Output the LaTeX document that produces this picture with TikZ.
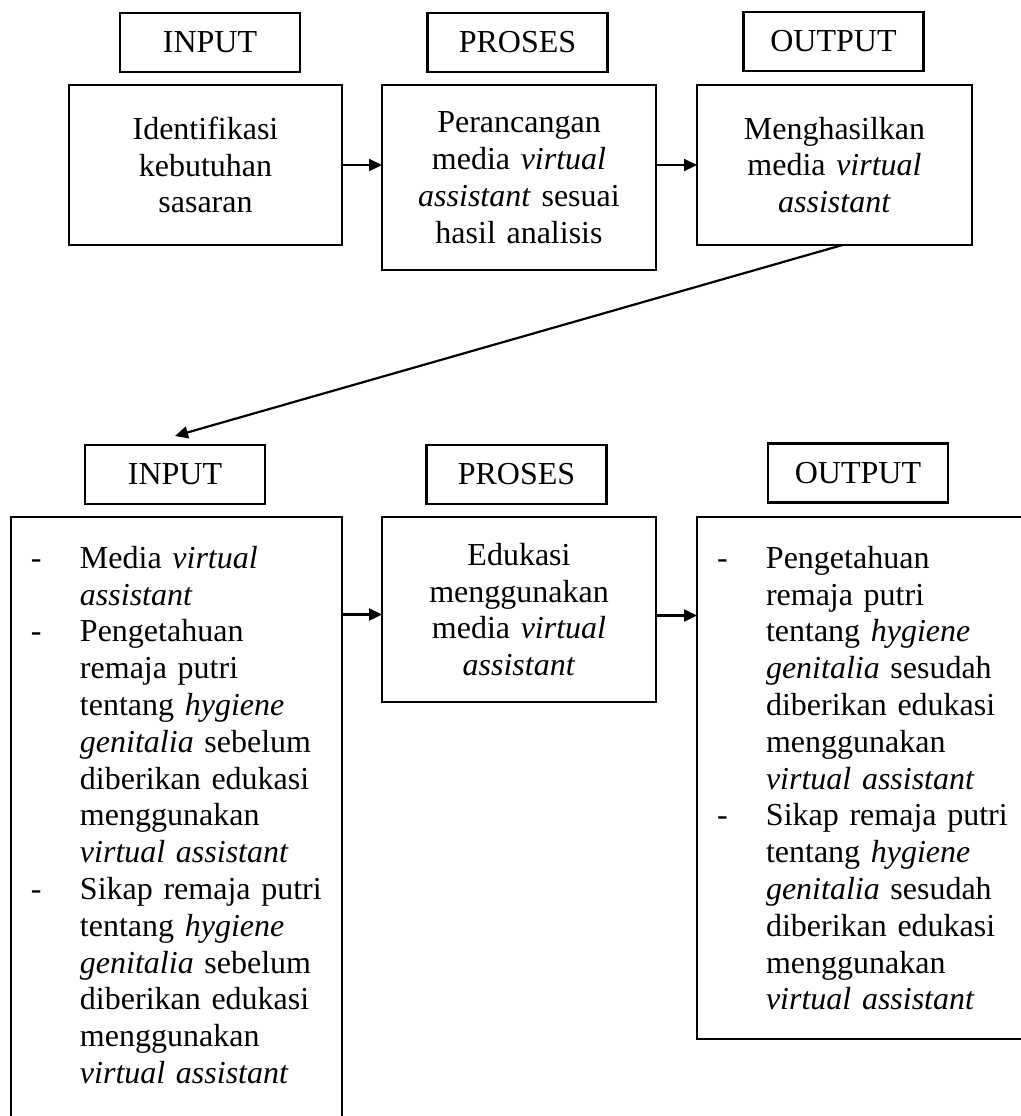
\documentclass[tikz,border=0pt]{standalone}
\usepackage{fontspec}
\setmainfont{Liberation Serif}
\usetikzlibrary{arrows.meta,positioning,calc}
\newcommand{\lstdash}{\makebox[24.5pt][l]{-}}
\newcommand{\lstgap}{\hspace*{24.5pt}}

\begin{document}
\begin{tikzpicture}[x=0.5pt,y=-0.5pt,font=\fontsize{16pt}{18.4pt}\selectfont,node distance=20pt]
\tikzset{lbl/.style={draw,line width=1.2pt,minimum width=90pt,minimum height=29.5pt,inner sep=0pt,outer sep=0pt}, box/.style={draw,line width=1.2pt,minimum width=137pt,minimum height=80pt,text width=125pt,align=center,inner sep=0pt,outer sep=0pt}, lst/.style={draw,line width=1.2pt,inner xsep=10pt,inner ysep=14.5pt,outer sep=0pt,align=left,anchor=north west}, ar/.style={-{Triangle[length=6.5pt,width=6pt]},line width=1.1pt}}
\useasboundingbox (0,0) rectangle (1021,1116);
\clip (0,0) rectangle (1021,1116);
% top row
\node[lbl] (lin1) at (210,42.5) {INPUT};
\node[lbl] (lpr1) at (517.5,42.5) {PROSES};
\node[lbl] (lout1) at (833.5,41.5) {OUTPUT};
\node[box,minimum width=136.5pt,anchor=north west] (b1) at (69,85) {Identifikasi\\kebutuhan\\sasaran};
\node[box,minimum height=92.5pt,right=20pt of b1.north east,anchor=north west] (b2) {Perancangan\\media \textit{virtual}\\\textit{assistant} sesuai\\hasil analisis};
\node[box,minimum width=137.5pt,right=20.5pt of b2.north east,anchor=north west] (b3) {Menghasilkan\\media \textit{virtual}\\\textit{assistant}};
\draw[ar] (b1.east) -- (b1.east -| b2.west);
\draw[ar] (b2.east |- b3.west) -- (b3.west);
% bottom row
\node[lbl] (lin2) at (175,474.5) {INPUT};
\node[lbl] (lpr2) at (516.5,474.5) {PROSES};
\node[lbl] (lout2) at (858,473) {OUTPUT};
\node[lst,text width=145.5pt,text depth=264pt] (b4) at (11,517) {\lstdash Media \textit{virtual}\\
\lstgap\textit{assistant}\\
\lstdash Pengetahuan\\
\lstgap remaja putri\\
\lstgap tentang \textit{hygiene}\\
\lstgap\textit{genitalia} sebelum\\
\lstgap diberikan edukasi\\
\lstgap menggunakan\\
\lstgap\textit{virtual assistant}\\
\lstdash Sikap remaja putri\\
\lstgap tentang \textit{hygiene}\\
\lstgap\textit{genitalia} sebelum\\
\lstgap diberikan edukasi\\
\lstgap menggunakan\\
\lstgap\textit{virtual assistant}};
\node[box,minimum height=92.5pt,right=20pt of b4.north east,anchor=north west] (b5) {Edukasi\\menggunakan\\media \textit{virtual}\\\textit{assistant}};
\node[lst,text width=160pt,right=20.5pt of b5.north east,anchor=north west] (b6) {\lstdash Pengetahuan\\
\lstgap remaja putri\\
\lstgap tentang \textit{hygiene}\\
\lstgap\textit{genitalia} sesudah\\
\lstgap diberikan edukasi\\
\lstgap menggunakan\\
\lstgap\textit{virtual assistant}\\
\lstdash Sikap remaja putri\\
\lstgap tentang \textit{hygiene}\\
\lstgap\textit{genitalia} sesudah\\
\lstgap diberikan edukasi\\
\lstgap menggunakan\\
\lstgap\textit{virtual assistant}};
\coordinate (m5) at ($(b5.west)+(0,5)$);
\coordinate (m6) at ($(b5.east)+(0,6)$);
\draw[ar] (b4.east |- m5) -- (m5);
\draw[ar] (m6) -- (m6 -| b6.west);
\draw[ar] ([xshift=4pt]b3.south) -- ([yshift=4.5pt]lin2.north);
\end{tikzpicture}
\end{document}
